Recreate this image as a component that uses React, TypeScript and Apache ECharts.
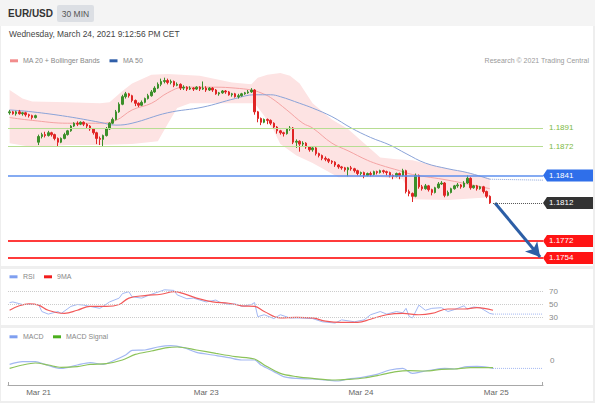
import { useEffect, useRef } from "react";
import * as echarts from "echarts";

const FONT = "'Liberation Sans', Arial, Helvetica, sans-serif";
const SLOT_COUNT = 166; // 30-min slots on the time axis (150 candles + future space)

// ---- price candles (30 min) ----
const candleOpen = [
  1.1907, 1.1908, 1.1906, 1.1908, 1.1906, 1.1907, 1.1905, 1.1904, 1.1902,
  1.1876, 1.1882, 1.1884, 1.1883, 1.1886, 1.1884, 1.188, 1.1876, 1.188, 1.1884,
  1.1888, 1.1893, 1.1896, 1.1895, 1.1897, 1.1895, 1.1893, 1.189, 1.1886, 1.188, 1.1879,
  1.1883, 1.189, 1.1896, 1.19, 1.1908, 1.1916, 1.1924, 1.1927, 1.1925, 1.192,
  1.1917, 1.1915, 1.1918, 1.1922, 1.1925, 1.1929, 1.1933, 1.1937, 1.194, 1.1941,
  1.1939, 1.194, 1.1936, 1.1937, 1.1933, 1.1934, 1.1932, 1.1933, 1.1932, 1.1934,
  1.1932, 1.1933, 1.1931, 1.1933, 1.1931, 1.1927, 1.1928, 1.193, 1.1929, 1.1926,
  1.1927, 1.1924, 1.1925, 1.1927, 1.1928, 1.1929, 1.1931, 1.1908, 1.1901, 1.1897,
  1.19, 1.1899, 1.1896, 1.1892, 1.1888, 1.1886, 1.1885, 1.189, 1.1891, 1.1876,
  1.1877, 1.1874, 1.1875, 1.1871, 1.1868, 1.187, 1.1864, 1.1862, 1.1859, 1.1858,
  1.1856, 1.1855, 1.1852, 1.185, 1.1849, 1.1847, 1.1849, 1.1848, 1.1846, 1.1843,
  1.1844, 1.1841, 1.1843, 1.1842, 1.1845, 1.1844, 1.1846, 1.1845, 1.1844, 1.1841,
  1.184, 1.1843, 1.1841, 1.1846, 1.1824, 1.1822, 1.1819, 1.1841, 1.1829, 1.1827,
  1.183, 1.1826, 1.1823, 1.1828, 1.1832, 1.1833, 1.182, 1.1823, 1.1827, 1.183,
  1.1831, 1.1829, 1.1833, 1.1838, 1.1828, 1.183, 1.1827, 1.1829, 1.1824, 1.1819,
];
const candleClose = [
  1.1908, 1.1906, 1.1908, 1.1906, 1.1907, 1.1905, 1.1904, 1.1902, 1.1904,
  1.1882, 1.1884, 1.1883, 1.1886, 1.1884, 1.188, 1.1876, 1.188, 1.1884, 1.1888,
  1.1893, 1.1896, 1.1895, 1.1897, 1.1895, 1.1893, 1.189, 1.1886, 1.188, 1.1879, 1.1883,
  1.189, 1.1896, 1.19, 1.1908, 1.1916, 1.1924, 1.1927, 1.1925, 1.192, 1.1917,
  1.1915, 1.1918, 1.1922, 1.1925, 1.1929, 1.1933, 1.1937, 1.194, 1.1941, 1.1939,
  1.194, 1.1936, 1.1937, 1.1933, 1.1934, 1.1932, 1.1933, 1.1932, 1.1934, 1.1932,
  1.1933, 1.1931, 1.1933, 1.1931, 1.1927, 1.1928, 1.193, 1.1929, 1.1926, 1.1927,
  1.1924, 1.1925, 1.1927, 1.1928, 1.1929, 1.1931, 1.1908, 1.1901, 1.1897, 1.19,
  1.1899, 1.1896, 1.1892, 1.1888, 1.1886, 1.1885, 1.189, 1.1891, 1.1876, 1.1877,
  1.1874, 1.1875, 1.1871, 1.1868, 1.187, 1.1864, 1.1862, 1.1859, 1.1858, 1.1856,
  1.1855, 1.1852, 1.185, 1.1849, 1.1847, 1.1849, 1.1848, 1.1846, 1.1843, 1.1844,
  1.1841, 1.1843, 1.1842, 1.1845, 1.1844, 1.1846, 1.1845, 1.1844, 1.1841, 1.184,
  1.1843, 1.1841, 1.1846, 1.1824, 1.1822, 1.1819, 1.1841, 1.1829, 1.1827, 1.183,
  1.1826, 1.1823, 1.1828, 1.1832, 1.1833, 1.182, 1.1823, 1.1827, 1.183, 1.1831,
  1.1829, 1.1833, 1.1838, 1.1828, 1.183, 1.1827, 1.1829, 1.1824, 1.1819, 1.1812,
];
const candleLow = [
  1.1905, 1.1905, 1.1904, 1.1905, 1.1904, 1.1903, 1.1902, 1.19, 1.1901,
  1.1873, 1.188, 1.1881, 1.1882, 1.1882, 1.1878, 1.1872, 1.1875, 1.1879, 1.1883,
  1.1887, 1.1892, 1.1893, 1.1894, 1.1893, 1.1891, 1.1888, 1.1884, 1.1874, 1.1873, 1.1872,
  1.1882, 1.1889, 1.1895, 1.1899, 1.1907, 1.1915, 1.1922, 1.1923, 1.1918, 1.1914,
  1.1913, 1.1914, 1.1917, 1.1921, 1.1924, 1.1928, 1.1932, 1.1935, 1.1938, 1.1937,
  1.1937, 1.1934, 1.1935, 1.1931, 1.1931, 1.193, 1.1931, 1.193, 1.1931, 1.193,
  1.1931, 1.1929, 1.193, 1.1929, 1.1926, 1.1925, 1.1927, 1.1927, 1.1925, 1.1924,
  1.1923, 1.1922, 1.1924, 1.1926, 1.1927, 1.1928, 1.1905, 1.1897, 1.1894, 1.1896,
  1.1895, 1.1894, 1.189, 1.1885, 1.1884, 1.1882, 1.1884, 1.1888, 1.1874, 1.187,
  1.1866, 1.1872, 1.1869, 1.1866, 1.1866, 1.1862, 1.186, 1.1857, 1.1856, 1.1854,
  1.1853, 1.185, 1.1848, 1.1847, 1.1845, 1.184, 1.1846, 1.1844, 1.1841, 1.1841,
  1.1838, 1.184, 1.184, 1.1841, 1.1842, 1.1843, 1.1843, 1.1841, 1.1839, 1.1837,
  1.1839, 1.1837, 1.184, 1.1822, 1.1819, 1.1813, 1.1818, 1.1827, 1.1825, 1.1826,
  1.1824, 1.182, 1.1822, 1.1827, 1.1831, 1.1818, 1.1819, 1.1822, 1.1826, 1.1828,
  1.1827, 1.1828, 1.1832, 1.1826, 1.1827, 1.1825, 1.1826, 1.1822, 1.1817, 1.1811,
];
const candleHigh = [
  1.191, 1.1909, 1.1909, 1.191, 1.1908, 1.1908, 1.1906, 1.1905, 1.1905,
  1.1884, 1.1886, 1.1887, 1.1888, 1.1887, 1.1885, 1.1881, 1.1881, 1.1886, 1.1889,
  1.1894, 1.1897, 1.1898, 1.1898, 1.1898, 1.1896, 1.1894, 1.1891, 1.1887, 1.1882, 1.1884,
  1.1892, 1.1897, 1.1902, 1.191, 1.1918, 1.1926, 1.1929, 1.1928, 1.1926, 1.1921,
  1.1918, 1.192, 1.1923, 1.1927, 1.1931, 1.1935, 1.1939, 1.1943, 1.1944, 1.1943,
  1.1942, 1.1941, 1.1939, 1.1938, 1.1936, 1.1935, 1.1935, 1.1934, 1.1935, 1.1935,
  1.194, 1.1935, 1.1934, 1.1934, 1.1932, 1.1929, 1.1931, 1.1931, 1.193, 1.1928,
  1.1928, 1.1927, 1.1928, 1.1929, 1.1931, 1.1933, 1.1932, 1.1909, 1.1902, 1.1901,
  1.1901, 1.19, 1.1897, 1.1893, 1.1889, 1.1887, 1.1891, 1.1893, 1.1892, 1.1879,
  1.1878, 1.1877, 1.1876, 1.1872, 1.1872, 1.1871, 1.1865, 1.1863, 1.1861, 1.1859,
  1.1857, 1.1856, 1.1853, 1.1851, 1.185, 1.185, 1.1851, 1.1849, 1.1847, 1.1845,
  1.1845, 1.1844, 1.1845, 1.1846, 1.1846, 1.1847, 1.1847, 1.1846, 1.1845, 1.1842,
  1.1844, 1.1844, 1.1848, 1.1847, 1.1826, 1.1823, 1.1843, 1.1842, 1.1831, 1.1832,
  1.1831, 1.1827, 1.1829, 1.1834, 1.1835, 1.1834, 1.1825, 1.1828, 1.1831, 1.1833,
  1.1832, 1.1835, 1.1841, 1.1839, 1.1831, 1.1831, 1.183, 1.183, 1.1825, 1.182,
];

// ---- overlays: [slot index, price] ----
const bbUpper = [
  [0, 1.1931], [4, 1.1922], [7, 1.1919], [18, 1.1918], [28, 1.1917], [31, 1.1918],
  [35, 1.193], [38, 1.1938], [44, 1.1947], [49, 1.1948], [59, 1.1946], [69, 1.1939],
  [75, 1.1937], [77, 1.1944], [80, 1.1947], [84, 1.1949], [87, 1.1946], [90, 1.1938],
  [94, 1.1917], [100, 1.19], [105, 1.189], [110, 1.1875], [115, 1.186], [120, 1.1858],
  [125, 1.1857], [136, 1.1848], [142, 1.1844], [149, 1.1838],
];
const bbLower = [
  [0, 1.1875], [7, 1.1871], [18, 1.1873], [28, 1.1873], [38, 1.1874], [46, 1.1877],
  [49, 1.1895], [52, 1.1912], [56, 1.1917], [69, 1.1917], [76, 1.1917], [79, 1.1904],
  [82, 1.1888], [84, 1.1874], [89, 1.1862], [94, 1.1854], [102, 1.1839], [115, 1.1839],
  [122, 1.1837], [125, 1.1816], [136, 1.1815], [149, 1.1818],
];
const ma20 = [
  [0, 1.1902], [7, 1.1899], [18, 1.1896], [28, 1.1896], [33, 1.1899], [38, 1.191],
  [44, 1.1917], [49, 1.1928], [54, 1.1934], [64, 1.1934], [70, 1.1933], [75, 1.1931],
  [78, 1.1928], [81, 1.1923], [86, 1.191], [91, 1.1896], [94, 1.1891], [100, 1.1875],
  [105, 1.1867], [111, 1.1857], [115, 1.1852], [121, 1.1846], [125, 1.1842], [136, 1.1836],
  [149, 1.1827],
];
const ma50 = [
  [0, 1.191], [7, 1.1908], [18, 1.1903], [28, 1.1897], [33, 1.1894], [38, 1.1896],
  [49, 1.1907], [60, 1.1913], [70, 1.1922], [76, 1.1926], [81, 1.1926], [84, 1.1924],
  [90, 1.1917], [94, 1.1912], [100, 1.1903], [106, 1.1891], [112, 1.1881], [118, 1.1873],
  [123, 1.1864], [129, 1.1854], [136, 1.1848], [142, 1.1844], [149, 1.1837],
];
const ma50Projection = [[149, 1.1837], [165.5, 1.1836]];

const resistanceLevels = [1.1891, 1.1872];
const pivotLevel = 1.1841;
const lastPrice = 1.1812;
const supportLevels = [1.1772, 1.1754];
const arrowFrom = [150.6, 1.1812];
const arrowTo = [164.6, 1.1755];

// ---- RSI ----
const rsi = [
  [0, 53], [1, 54], [4, 50], [9, 50], [10, 39], [12, 35], [15, 39], [16, 36], [19, 47],
  [21, 50], [23, 49], [25, 47], [28, 44], [29, 47], [31, 54], [34, 60], [35, 67], [37, 70],
  [38, 62], [41, 60], [44, 66], [47, 71], [48, 73], [51, 72], [52, 65], [55, 59], [57, 60],
  [59, 57], [61, 54], [64, 57], [65, 54], [68, 50], [70, 51], [72, 47], [75, 50], [76, 53],
  [77, 31], [79, 34], [82, 28], [84, 34], [87, 29], [90, 29], [94, 28], [97, 23], [101, 21],
  [103, 26], [107, 23], [110, 26], [112, 34], [115, 39], [117, 35], [120, 39], [122, 37],
  [123, 44], [124, 31], [125, 29], [127, 49], [129, 41], [131, 44], [134, 45], [136, 39],
  [138, 42], [141, 48], [142, 43], [144, 46], [146, 45], [149, 36], [150, 35],
];
const rsiMa = [
  [0, 41], [3, 48], [6, 51], [9, 49], [12, 41], [17, 36], [21, 41], [25, 47], [30, 47],
  [34, 50], [37, 60], [42, 64], [47, 66], [51, 70], [54, 67], [58, 60], [63, 54], [68, 52],
  [72, 48], [76, 47], [79, 39], [84, 29], [89, 30], [94, 29], [98, 24], [103, 22], [108, 22],
  [112, 27], [117, 34], [122, 36], [127, 34], [131, 36], [136, 43], [141, 43], [145, 45],
  [150, 41],
];
const rsiProjection = [[150, 35], [165.5, 35]];
const rsiLevels = [70, 50, 30];

// ---- MACD ----
const macd = [
  [0, -0.00022], [4, -0.00008], [8, -0.00008], [11, -0.00022], [16, -0.00042], [21, -0.00025],
  [25, -0.00013], [29, -0.00022], [32, -0.00005], [36, 0.00025], [38, 0.00048], [42, 0.0005],
  [46, 0.00065], [50, 0.00072], [54, 0.00062], [58, 0.00038], [63, 0.00025], [68, 0.00012],
  [72, 0], [76, 0], [78, -0.00025], [82, -0.00058], [85, -0.00083], [89, -0.00092],
  [94, -0.00095], [98, -0.001], [102, -0.00105], [105, -0.00095], [109, -0.00088],
  [114, -0.00072], [118, -0.0005], [122, -0.00042], [125, -0.00067], [128, -0.00058],
  [131, -0.0005], [135, -0.00042], [138, -0.00045], [142, -0.00033], [145, -0.00032],
  [149, -0.00038], [150, -0.00042],
];
const macdSignal = [
  [0, -0.00042], [4, -0.00025], [8, -0.00015], [12, -0.00025], [16, -0.00037], [21, -0.00033],
  [25, -0.00022], [30, -0.00018], [35, 0], [39, 0.00028], [44, 0.00045], [49, 0.00062],
  [52, 0.00065], [58, 0.0005], [64, 0.00033], [70, 0.00017], [76, 0.00005], [79, -0.00025],
  [84, -0.00067], [89, -0.00083], [94, -0.00092], [101, -0.001], [105, -0.00097],
  [110, -0.0009], [115, -0.00075], [120, -0.00058], [124, -0.00053], [129, -0.00055],
  [134, -0.00047], [138, -0.00045], [143, -0.00038], [150, -0.00038],
];
const macdProjection = [[150, -0.00042], [165.5, -0.00042]];

// ---- time axis ----
const dateTickIndex = [9, 61, 109, 151];
const dateTickLabel = ["Mar 21", "Mar 23", "Mar 24", "Mar 25"];

const C = {
  up: "#3c8f2a",
  down: "#e02525",
  band: "#fde3e3",
  ma20: "#f4a3a3",
  ma50: "#8aa3d8",
  green: "#b7dd92",
  greenText: "#7dba44",
  blue: "#5d8fee",
  blueTag: "#2f6fea",
  dark: "#333333",
  red: "#ff3b3b",
  redTag: "#ff1414",
  arrow: "#2c5ea6",
  rsi: "#a3b8f2",
  rsiMa: "#f25a5a",
  macd: "#a3b8f2",
  signal: "#8cc35a",
};

function buildOption(): any {
  const slotNames = Array.from({ length: SLOT_COUNT }, (_, i) => String(i));
  const dateSlots = Array.from({ length: SLOT_COUNT }, () => "");
  dateTickIndex.forEach((idx, k) => {
    dateSlots[idx] = dateTickLabel[k];
  });
  const candles = candleOpen.map((o, i) => [o, candleClose[i], candleLow[i], candleHigh[i]]);
  const xRange = { min: -0.5, max: SLOT_COUNT - 0.5 };
  const noLabelMark = { symbol: ["none", "none"], silent: true, label: { show: false }, emphasis: { disabled: true } };
  const xEnd = SLOT_COUNT - 0.5;
  const hLine = (v: number, lineStyle: any) => [
    { coord: [-0.5, v], lineStyle },
    { coord: [xEnd, v] },
  ];

  return {
    animation: false,
    backgroundColor: "#ffffff",
    textStyle: { fontFamily: FONT },
    grid: [
      { left: 8, width: 535, top: 70, height: 195 },
      { left: 8, width: 535, top: 285.3, height: 38.4 },
      { left: 8, width: 535, top: 340, height: 45.5 },
    ],
    xAxis: [
      { type: "category", gridIndex: 0, data: slotNames, show: false },
      { type: "value", gridIndex: 0, ...xRange, show: false },
      { type: "value", gridIndex: 1, ...xRange, show: false },
      { type: "value", gridIndex: 2, ...xRange, show: false, position: "top" },
      {
        type: "category",
        gridIndex: 2,
        data: dateSlots,
        position: "bottom",
        axisLine: { lineStyle: { color: "#a8a8a8", width: 1 } },
        axisTick: { show: false },
        splitLine: { show: false },
        axisLabel: {
          interval: (_i: number, v: string) => v !== "",
          color: "#666",
          fontSize: 8,
          margin: 3,
          fontFamily: FONT,
        },
      },
    ],
    yAxis: [
      { type: "value", gridIndex: 0, min: 1.17466, max: 1.19521, show: false },
      {
        type: "value",
        gridIndex: 1,
        min: 20,
        max: 80,
        interval: 10,
        position: "right",
        axisLine: { show: false },
        axisTick: { show: false },
        splitLine: { show: false },
        axisLabel: {
          formatter: (v: number) => (rsiLevels.includes(v) ? String(v) : ""),
          color: "#888",
          fontSize: 8,
          margin: 6,
          fontFamily: FONT,
        },
      },
      {
        type: "value",
        gridIndex: 2,
        min: -0.001275,
        max: 0.001,
        position: "right",
        axisLine: { show: false },
        axisTick: { show: false },
        splitLine: { show: false },
        axisLabel: { customValues: [0], formatter: () => "0", color: "#888", fontSize: 8, margin: 7, fontFamily: FONT },
      },
    ],
    series: [
      {
        type: "custom",
        name: "bands",
        coordinateSystem: "cartesian2d",
        xAxisIndex: 1,
        yAxisIndex: 0,
        data: [[0, 1.185]],
        silent: true,
        z: 1,
        renderItem: (_p: any, api: any) => {
          const pts = [...bbUpper.map((p) => api.coord(p)), ...bbLower.slice().reverse().map((p) => api.coord(p))];
          return { type: "polygon", shape: { points: pts }, style: { fill: C.band } };
        },
      },
      {
        type: "line",
        name: "levels",
        xAxisIndex: 1,
        yAxisIndex: 0,
        data: ma50Projection,
        symbol: "none",
        z: 2,
        lineStyle: { color: C.ma50, width: 1, type: "dotted" },
        markLine: {
          ...noLabelMark,
          data: [
            ...resistanceLevels.map((v) => hLine(v, { color: C.green, width: 1, type: "solid" })),
            hLine(pivotLevel, { color: C.blue, width: 1.5, type: "solid" }),
            ...supportLevels.map((v) => hLine(v, { color: C.red, width: 2, type: "solid" })),
          ],
        },
      },
      {
        type: "line",
        name: "MA 20",
        xAxisIndex: 1,
        yAxisIndex: 0,
        data: ma20,
        smooth: 0.4,
        symbol: "none",
        z: 2,
        lineStyle: { color: C.ma20, width: 1 },
        markLine: {
          ...noLabelMark,
          symbol: ["none", "arrow"],
          symbolSize: [12, 14],
          lineStyle: { color: C.arrow, width: 3, type: "solid" },
          data: [[{ coord: arrowFrom }, { coord: arrowTo }]],
        },
      },
      {
        type: "line",
        name: "MA 50",
        xAxisIndex: 1,
        yAxisIndex: 0,
        data: ma50,
        smooth: 0.4,
        symbol: "none",
        z: 2,
        lineStyle: { color: C.ma50, width: 1 },
        markLine: {
          ...noLabelMark,
          lineStyle: { color: "#555", width: 1, type: "dotted" },
          data: [[{ coord: [150, lastPrice] }, { coord: [xEnd, lastPrice] }]],
        },
      },
      {
        type: "candlestick",
        name: "EUR/USD",
        xAxisIndex: 0,
        yAxisIndex: 0,
        data: candles,
        barWidth: 2,
        z: 3,
        itemStyle: {
          color: C.up,
          color0: C.down,
          borderColor: C.up,
          borderColor0: C.down,
          borderWidth: 1,
        },
      },
      {
        type: "line",
        name: "RSI",
        xAxisIndex: 2,
        yAxisIndex: 1,
        data: rsi,
        symbol: "none",
        lineStyle: { color: C.rsi, width: 1 },
        markLine: {
          ...noLabelMark,
          lineStyle: { color: "#cccccc", width: 1, type: "dotted" },
          data: rsiLevels.map((v) => ({ yAxis: v })),
        },
      },
      {
        type: "line",
        name: "9MA",
        xAxisIndex: 2,
        yAxisIndex: 1,
        data: rsiMa,
        smooth: 0.4,
        symbol: "none",
        lineStyle: { color: C.rsiMa, width: 1.2 },
      },
      {
        type: "line",
        xAxisIndex: 2,
        yAxisIndex: 1,
        data: rsiProjection,
        symbol: "none",
        lineStyle: { color: C.rsi, width: 1, type: "dotted" },
      },
      {
        type: "line",
        name: "MACD",
        xAxisIndex: 3,
        yAxisIndex: 2,
        data: macd,
        smooth: 0.3,
        symbol: "none",
        lineStyle: { color: C.macd, width: 1.2 },
      },
      {
        type: "line",
        name: "MACD Signal",
        xAxisIndex: 3,
        yAxisIndex: 2,
        data: macdSignal,
        smooth: 0.3,
        symbol: "none",
        lineStyle: { color: C.signal, width: 1.2 },
      },
      {
        type: "line",
        xAxisIndex: 3,
        yAxisIndex: 2,
        data: macdProjection,
        symbol: "none",
        lineStyle: { color: C.macd, width: 1, type: "dotted" },
      },
    ],
  };
}

function txt(x: number, y: number, text: string, size: number, color: string, align = "left", bold = false): any {
  return {
    type: "text",
    x,
    y,
    z: 20,
    silent: true,
    style: {
      text,
      fill: color,
      font: `${bold ? "bold " : ""}${size}px ${FONT}`,
      textAlign: align,
      textVerticalAlign: "middle",
      verticalAlign: "middle",
    },
  };
}

function box(x: number, y: number, w: number, h: number, fill: string, z = 0): any {
  return { type: "rect", z, silent: true, shape: { x, y, width: w, height: h }, style: { fill } };
}

function tag(y: number, fill: string, text: string): any[] {
  return [
    {
      type: "polygon",
      z: 15,
      silent: true,
      shape: { points: [[543, y], [547, y - 6], [593, y - 6], [593, y + 6], [547, y + 6]] },
      style: { fill },
    },
    txt(549, y, text, 8, "#ffffff"),
  ];
}

function buildGraphics(yOf: (v: number) => number): any[] {
  const els: any[] = [];
  // frame
  els.push(box(0, 0, 595, 26, "#f4f4f4"));
  els.push(box(0, 266, 595, 3, "#efefef"));
  els.push(box(0, 325, 595, 3, "#efefef"));
  els.push(box(593, 26, 2, 377, "#eeeeee"));
  els.push(box(0, 26, 1, 377, "#eeeeee"));
  els.push(box(0, 401, 595, 2, "#eeeeee"));
  // header
  els.push(txt(8, 13.7, "EUR/USD", 10, "#333333", "left", true));
  els.push({ ...box(57, 5, 37, 17, "#dcdfe4", 1), shape: { x: 57, y: 5, width: 37, height: 17, r: 2 } });
  els.push(txt(75.5, 13.8, "30 MIN", 8.5, "#555555", "center"));
  els.push(txt(9, 34, "Wednesday, March 24, 2021 9:12:56 PM CET", 8.4, "#444444"));
  // main legend
  els.push(box(10, 59.3, 8, 3, "#f28c8c", 5));
  els.push(txt(23, 60.7, "MA 20 + Bollinger Bands", 7, "#888888"));
  els.push(box(109.5, 59.3, 8, 3, "#2f5ea8", 5));
  els.push(txt(123, 60.7, "MA 50", 7, "#888888"));
  els.push(txt(589, 60.7, "Research \u00a9 2021 Trading Central", 7, "#9a9a9a", "right"));
  // RSI legend
  els.push(box(9.5, 275.3, 8, 3, "#7f9ff0", 5));
  els.push(txt(23, 276.7, "RSI", 7, "#888888"));
  els.push(box(44, 275.3, 8, 3, "#f21d1d", 5));
  els.push(txt(57, 276.7, "9MA", 7, "#888888"));
  // MACD legend
  els.push(box(9.5, 335.3, 8, 3, "#7f9ff0", 5));
  els.push(txt(23, 336.7, "MACD", 7, "#888888"));
  els.push(box(53, 335.3, 8, 3, "#4caf1e", 5));
  els.push(txt(66, 336.7, "MACD Signal", 7, "#888888"));
  // bracket ticks of the time axis
  els.push({ type: "line", z: 5, silent: true, shape: { x1: 8.5, y1: 382, x2: 8.5, y2: 385.5 }, style: { stroke: "#a8a8a8", lineWidth: 1 } });
  els.push({ type: "line", z: 5, silent: true, shape: { x1: 542.5, y1: 382, x2: 542.5, y2: 385.5 }, style: { stroke: "#a8a8a8", lineWidth: 1 } });
  // price labels
  resistanceLevels.forEach((v) => els.push(txt(549, yOf(v), v.toFixed(4), 8, C.greenText)));
  els.push(...tag(yOf(pivotLevel), C.blueTag, pivotLevel.toFixed(4)));
  els.push(...tag(yOf(lastPrice), C.dark, lastPrice.toFixed(4)));
  supportLevels.forEach((v) => els.push(...tag(yOf(v), C.redTag, v.toFixed(4))));
  return els;
}

export default function App() {
  const ref = useRef<HTMLDivElement>(null);
  useEffect(() => {
    const el = ref.current;
    if (!el) return;
    const chart = echarts.init(el, null, { renderer: "svg" });
    chart.setOption(buildOption());
    const yOf = (v: number) => chart.convertToPixel({ yAxisIndex: 0 }, v) as unknown as number;
    chart.setOption({ graphic: { elements: buildGraphics(yOf) } });
    return () => chart.dispose();
  }, []);
  return <div ref={ref} style={{ position: "fixed", left: 0, top: 0, width: 595, height: 403 }} />;
}
